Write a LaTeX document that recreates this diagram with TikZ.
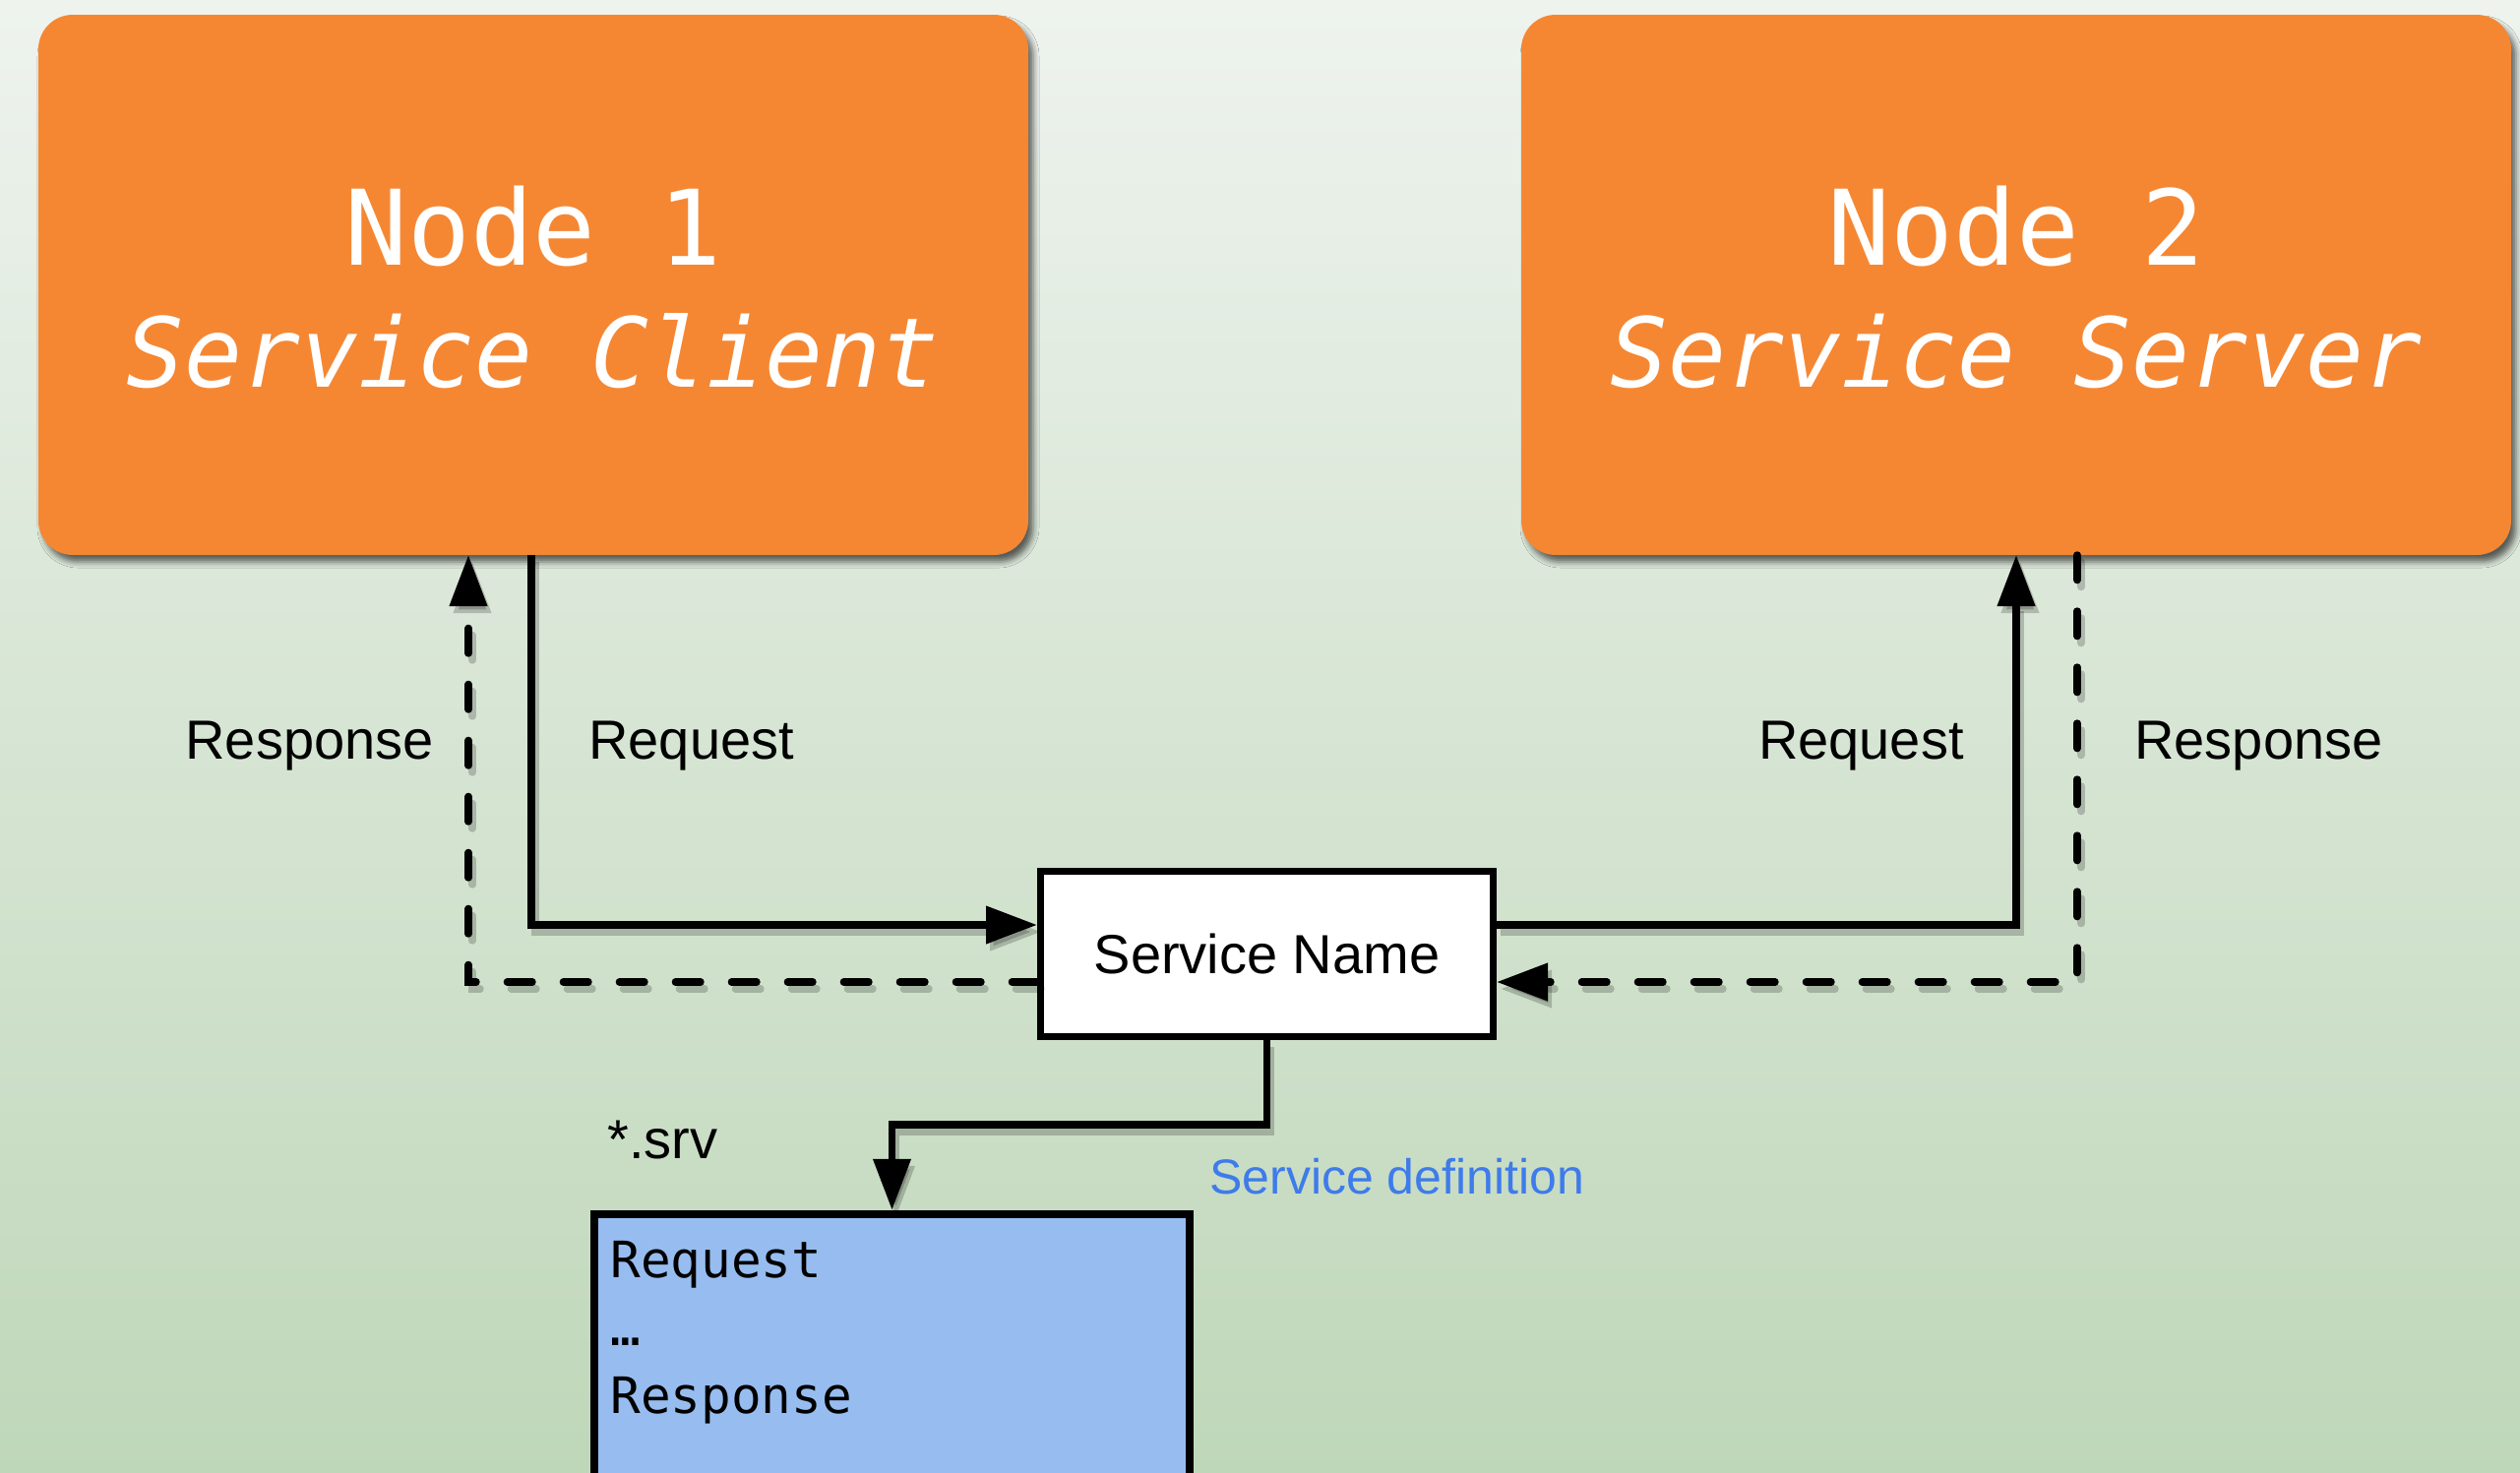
\documentclass[tikz,border=0pt]{standalone}
\usepackage{fontspec}
\setmainfont{Liberation Sans}
\newfontfamily\codefont{DejaVu Sans Mono}
\usetikzlibrary{arrows.meta,shadows.blur}

\definecolor{bgtop}{HTML}{EEF3EE}
\definecolor{bgbottom}{HTML}{BFD7B9}
\definecolor{nodeorange}{HTML}{F58733}
\definecolor{srvblue}{HTML}{97BDF0}
\definecolor{defblue}{HTML}{3E7BEB}

\tikzset{
  procbox/.style={fill=nodeorange, rounded corners=17.5pt,
    minimum width=503pt, minimum height=274.5pt, inner sep=0pt, outer sep=0pt,
    blur shadow={shadow xshift=2.5pt, shadow yshift=-3.5pt,
                 shadow blur radius=3pt, shadow opacity=60}},
  proctitle/.style={text=white, font=\codefont\fontsize{53}{60}\selectfont,
    anchor=base, inner sep=0pt},
  procrole/.style={text=white, font=\codefont\itshape\fontsize{49}{56}\selectfont,
    anchor=base, inner sep=0pt},
  namebox/.style={draw=black, fill=white, line width=3.5pt,
    minimum width=230pt, minimum height=84pt, inner sep=0pt,
    font=\fontsize{28}{32}\selectfont, text height=20pt, text depth=0pt},
  defbox/.style={draw=black, fill=srvblue, line width=4pt,
    minimum width=302.5pt, minimum height=183pt, inner sep=0pt},
  flowlabel/.style={font=\fontsize{28}{32}\selectfont, inner sep=0pt},
  codeline/.style={font=\codefont\fontsize{25.5}{30}\selectfont,
    anchor=base west, inner sep=0pt},
  link/.style={line width=3.7pt, -{Triangle[length=26pt,width=18.5pt]}},
  reqlink/.style={link},
  reslink/.style={link, dash pattern=on 12.8pt off 15.7pt, line cap=round},
  linkshadow/.style={draw=black, opacity=0.2},
}

% all connectors; the argument adds a style (used for the shadow pass)
\newcommand\drawlinks[1]{%
  \draw[reqlink,#1] ([xshift=-1pt]n1.south) |- ([yshift=14.75pt]svc.west);
  \draw[reslink,#1] ([yshift=-14.25pt]svc.west) -| ([xshift=-33pt]n1.south);
  \draw[reqlink,#1] ([yshift=14.75pt]svc.east) -| (n2.south);
  \draw[reslink,#1] ([xshift=31pt]n2.south) |- ([yshift=-14.25pt]svc.east);
  \draw[reqlink,#1] (svc.south) -- (svc.south |- bend) -| (srv.north);
}

\begin{document}
\begin{tikzpicture}[x=0.5pt, y=-0.5pt]
  \clip (0,0) rectangle (2561,1496);
  \shade[top color=bgtop, bottom color=bgbottom] (0,0) rectangle (2561,1496);

  % the two ROS nodes
  \node[procbox] (n1) at (542,289.5) {};
  \node[procbox] (n2) at (2049,289.5) {};
  \node[proctitle] (n1title) at (542,269) {Node 1};
  \node[procrole]  (n1role)  at (542,393) {Service Client};
  \node[proctitle] (n2title) at (2049,269) {Node 2};
  \node[procrole]  (n2role)  at (2049,393) {Service Server};

  % service and its definition file
  \node[namebox] (svc) at (1287.5,969.5) {Service Name};
  \node[defbox] (srv) at (906.5,1416.75) {};
  \node[codeline] (srvreq)  at (620,1298) {Request};
  \node[codeline] (srvdots) at (620,1367) {…};
  \node[codeline] (srvres)  at (620,1436) {Response};

  \coordinate (bend) at (1289,1143);

  % connectors: soft shadow first, then the lines
  \begin{scope}[transform canvas={shift={(2pt,-3.5pt)}}]
    \drawlinks{linkshadow}
  \end{scope}
  \drawlinks{}

  % labels
  \node[flowlabel, anchor=base east] (lresp) at (441,771) {Response};
  \node[flowlabel, anchor=base west] (lreq)  at (598,771) {Request};
  \node[flowlabel, anchor=base east] (rreq)  at (1996,771) {Request};
  \node[flowlabel, anchor=base west] (rresp) at (2169,771) {Response};
  \node[flowlabel, anchor=base west] (srvext) at (617,1177) {*.srv};
  \node[font=\fontsize{25}{30}\selectfont, text=defblue, inner sep=0pt,
        anchor=base west] (srvdef) at (1229,1213) {Service definition};
\end{tikzpicture}
\end{document}
